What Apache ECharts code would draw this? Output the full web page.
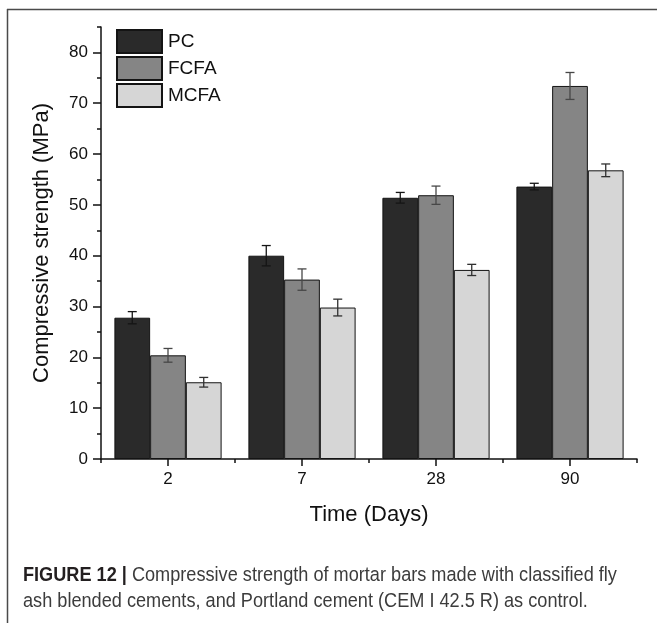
<!DOCTYPE html>
<html>
<head>
<meta charset="utf-8">
<script src="https://cdn.jsdelivr.net/npm/echarts@6/dist/echarts.min.js"></script>
<style>
  html, body { margin: 0; padding: 0; background: #fff; }
  #chart { width: 657px; height: 623px; }
</style>
</head>
<body>
<div id="chart"></div>
<script>
// Curing ages (days)
const days = ['2', '7', '28', '90'];

// Mean compressive strength (MPa) and standard deviation per cement
const pcMean   = [27.8, 40.0, 51.4, 53.6];
const pcErr    = [1.2, 2.0, 1.05, 0.65];
const fcfaMean = [20.4, 35.3, 51.9, 73.4];
const fcfaErr  = [1.35, 2.1, 1.8, 2.65];
const mcfaMean = [15.1, 29.8, 37.2, 56.8];
const mcfaErr  = [0.95, 1.65, 1.1, 1.25];

const seriesNames = ['PC', 'FCFA', 'MCFA'];
const fills = ['#2a2a2a', '#858585', '#d6d6d6'];
const whiskerColors = ['#151515', '#474747', '#303030'];

// Y-axis tick values
const majorTicks = [0, 10, 20, 30, 40, 50, 60, 70, 80];
const minorTicks = [5, 15, 25, 35, 45, 55, 65, 75, 85];

const means = [pcMean, fcfaMean, mcfaMean];
const errs = [pcErr, fcfaErr, mcfaErr];

const FONT = '"Liberation Sans", Arial, sans-serif';
const CAT_GAP = 0.2; // barCategoryGap

const barSeries = seriesNames.map((name, s) => ({
  name,
  type: 'bar',
  xAxisIndex: 0,
  yAxisIndex: 0,
  barGap: '0%',
  barCategoryGap: (CAT_GAP * 100) + '%',
  data: means[s],
  itemStyle: { color: fills[s], borderColor: '#141414', borderWidth: 1 },
  emphasis: { disabled: true },
  z: 2
}));

const errorSeries = seriesNames.map((name, s) => ({
  name: name + ' sd',
  type: 'custom',
  xAxisIndex: 0,
  yAxisIndex: 0,
  z: 5,
  silent: true,
  encode: { x: 0, y: 1 },
  data: means[s].map((v, i) => [i, v, errs[s][i]]),
  renderItem: function (params, api) {
    const i = api.value(0);
    const v = api.value(1);
    const e = api.value(2);
    const band = api.size([1, 0])[0];
    const barW = band * (1 - CAT_GAP) / 3;
    const cx = api.coord([i, v])[0] + (s - 1) * barW;
    const yTop = api.coord([i, v + e])[1];
    const yBot = api.coord([i, v - e])[1];
    const hw = 4.5;
    const style = { stroke: whiskerColors[s], lineWidth: 1.3 };
    return {
      type: 'group',
      children: [
        { type: 'line', shape: { x1: cx, y1: yTop, x2: cx, y2: yBot }, style },
        { type: 'line', shape: { x1: cx - hw, y1: yTop, x2: cx + hw, y2: yTop }, style },
        { type: 'line', shape: { x1: cx - hw, y1: yBot, x2: cx + hw, y2: yBot }, style }
      ]
    };
  }
}));

const chart = echarts.init(document.getElementById('chart'), null, { renderer: 'canvas' });

const CAPTION_FONT = '"Liberation Sans", Arial, sans-serif';

chart.setOption({
  animation: false,
  backgroundColor: '#ffffff',
  textStyle: { fontFamily: FONT },
  grid: { left: 101, right: 20, top: 27, bottom: 164, containLabel: false },
  legend: {
    data: seriesNames,
    orient: 'vertical',
    left: 116,
    top: 29,
    padding: 0,
    itemWidth: 45,
    itemHeight: 23,
    itemGap: 2,
    icon: 'rect',
    selectedMode: false,
    textStyle: { fontSize: 19, color: '#111', fontFamily: FONT, padding: [0, 0, 0, 1] }
  },
  xAxis: [
    {
      type: 'category',
      data: days,
      position: 'bottom',
      name: 'Time (Days)',
      nameLocation: 'middle',
      nameGap: 45,
      nameTextStyle: { fontSize: 22, color: '#111', fontFamily: FONT },
      axisLine: { show: true, lineStyle: { color: '#111', width: 1.5 } },
      axisTick: { show: true, alignWithLabel: true, length: 7, lineStyle: { color: '#111', width: 1.5 } },
      axisLabel: { fontSize: 17, color: '#111', margin: 12, fontFamily: FONT },
      splitLine: { show: false }
    },
    {
      type: 'category',
      data: days,
      position: 'bottom',
      axisLine: { show: false },
      axisTick: { show: true, length: 4, lineStyle: { color: '#111', width: 1.5 } },
      axisLabel: { show: false },
      splitLine: { show: false }
    }
  ],
  yAxis: [
    {
      type: 'value',
      position: 'left',
      min: 0,
      max: 85,
      interval: 5,
      name: 'Compressive strength (MPa)',
      nameLocation: 'middle',
      nameGap: 48,
      nameTextStyle: { fontSize: 22, color: '#111', fontFamily: FONT },
      axisLine: { show: true, lineStyle: { color: '#111', width: 1.5 } },
      axisTick: { show: true, length: 8, customValues: majorTicks, lineStyle: { color: '#111', width: 1.5 } },
      axisLabel: { fontSize: 17, color: '#111', margin: 13, customValues: majorTicks, fontFamily: FONT },
      splitLine: { show: false }
    },
    {
      type: 'value',
      position: 'left',
      min: 0,
      max: 85,
      interval: 5,
      axisLine: { show: false },
      axisTick: { show: true, length: 4, customValues: minorTicks, lineStyle: { color: '#111', width: 1.5 } },
      axisLabel: { show: false },
      splitLine: { show: false }
    }
  ],
  series: barSeries.concat(errorSeries),
  graphic: [
    // figure frame
    { type: 'line', silent: true, shape: { x1: 7, y1: 9.5, x2: 657, y2: 9.5 }, style: { stroke: '#4a4a4a', lineWidth: 1.5 } },
    { type: 'line', silent: true, shape: { x1: 7.5, y1: 9, x2: 7.5, y2: 623 }, style: { stroke: '#4a4a4a', lineWidth: 1.5 } },
    // caption (horizontally condensed)
    {
      type: 'text', silent: true, x: 23, y: 565, scaleX: 0.885,
      style: {
        text: '{b|FIGURE 12 |}{n| Compressive strength of mortar bars made with classified fly}',
        align: 'left',
        verticalAlign: 'top',
        rich: {
          b: { fontFamily: CAPTION_FONT, fontWeight: 'bold', fontSize: 20.5, fill: '#231f20' },
          n: { fontFamily: CAPTION_FONT, fontSize: 20.5, fill: '#3c3c3c' }
        }
      }
    },
    {
      type: 'text', silent: true, x: 23, y: 591, scaleX: 0.885,
      style: {
        text: 'ash blended cements, and Portland cement (CEM I 42.5 R) as control.',
        align: 'left',
        verticalAlign: 'top',
        fontFamily: CAPTION_FONT,
        fontSize: 20.5,
        fill: '#3c3c3c'
      }
    }
  ]
});
</script>
</body>
</html>
